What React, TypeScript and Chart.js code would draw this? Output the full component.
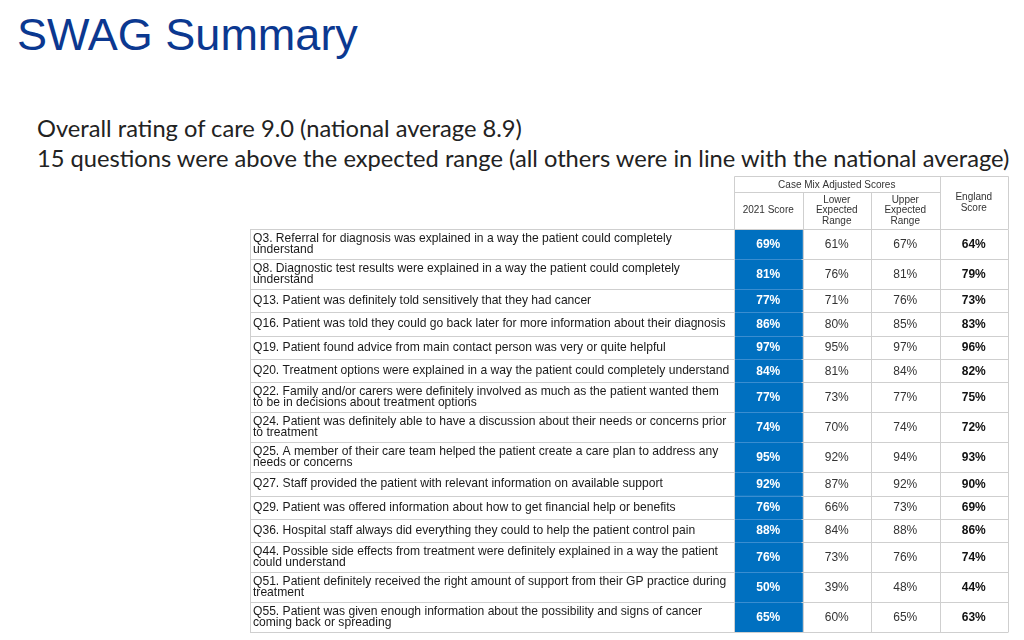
import React, { useEffect, useRef } from "react";
import { Chart, registerables } from "chart.js";

Chart.register(...registerables);

// ---------- data ----------
const pageTitle = "SWAG Summary";
const summaryLines = [
  "Overall rating of care 9.0 (national average 8.9)",
  "15 questions were above the expected range (all others were in line with the national average)",
];

const groupHeader = "Case Mix Adjusted Scores";
const columnLabels = ["2021 Score", "Lower Expected Range", "Upper Expected Range", "England Score"];
const columnHeaderLines = [
  ["2021 Score"],
  ["Lower", "Expected", "Range"],
  ["Upper", "Expected", "Range"],
  ["England", "Score"],
];

const questions: string[][] = [
  ["Q3. Referral for diagnosis was explained in a way the patient could completely", "understand"],
  ["Q8. Diagnostic test results were explained in a way the patient could completely", "understand"],
  ["Q13. Patient was definitely told sensitively that they had cancer"],
  ["Q16. Patient was told they could go back later for more information about their diagnosis"],
  ["Q19. Patient found advice from main contact person was very or quite helpful"],
  ["Q20. Treatment options were explained in a way the patient could completely understand"],
  ["Q22. Family and/or carers were definitely involved as much as the patient wanted them", "to be in decisions about treatment options"],
  ["Q24. Patient was definitely able to have a discussion about their needs or concerns prior", "to treatment"],
  ["Q25. A member of their care team helped the patient create a care plan to address any", "needs or concerns"],
  ["Q27. Staff provided the patient with relevant information on available support"],
  ["Q29. Patient was offered information about how to get financial help or benefits"],
  ["Q36. Hospital staff always did everything they could to help the patient control pain"],
  ["Q44. Possible side effects from treatment were definitely explained in a way the patient", "could understand"],
  ["Q51. Patient definitely received the right amount of support from their GP practice during", "treatment"],
  ["Q55. Patient was given enough information about the possibility and signs of cancer", "coming back or spreading"],
];

const score2021 = [69, 81, 77, 86, 97, 84, 77, 74, 95, 92, 76, 88, 76, 50, 65];
const lowerRange = [61, 76, 71, 80, 95, 81, 73, 70, 92, 87, 66, 84, 73, 39, 60];
const upperRange = [67, 81, 76, 85, 97, 84, 77, 74, 94, 92, 73, 88, 76, 48, 65];
const englandScore = [64, 79, 73, 83, 96, 82, 75, 72, 93, 90, 69, 86, 74, 44, 63];

// ---------- layout / style ----------
const QUESTION_COL = 484;
const HEADER_H = 53;
const BLUE = "#0070c0";
const GRID = "#cfcfcf";
const FONT = "'Liberation Sans', Arial, sans-serif";

const rowSize = (q: string[]) => (q.length > 1 ? 30 : 23.5);

export default function App() {
  const canvasRef = useRef<HTMLCanvasElement | null>(null);

  useEffect(() => {
    if (!canvasRef.current) return;
    const series = [score2021, lowerRange, upperRange, englandScore];

    const rowStarts: number[] = [];
    let acc = 0;
    questions.forEach((q) => {
      rowStarts.push(acc);
      acc += rowSize(q);
    });
    const total = acc;

    const tablePlugin = {
      id: "tablePlugin",
      afterDatasetsDraw(chart: any) {
        const { ctx, chartArea, scales } = chart;
        const xs = scales.x;
        const ys = scales.y;
        const half = (xs.getPixelForValue(1) - xs.getPixelForValue(0)) / 2;
        const colL = (c: number) => xs.getPixelForValue(c) - half;
        const colR = (c: number) => xs.getPixelForValue(c) + half;
        const crisp = (v: number) => Math.round(v) + 0.5;
        const tableLeft = chartArea.left - QUESTION_COL;
        const right = chartArea.right;
        const headTop = chartArea.top - HEADER_H;
        const subTop = headTop + 16;

        ctx.save();
        ctx.lineWidth = 1;

        // horizontal row lines
        const bounds = rowStarts.map((s) => s).concat([total]);
        bounds.forEach((b) => {
          const y = crisp(ys.getPixelForValue(b));
          ctx.strokeStyle = GRID;
          ctx.beginPath();
          ctx.moveTo(tableLeft, y);
          ctx.lineTo(right, y);
          ctx.stroke();
          if (b !== 0 && b !== total) {
            ctx.strokeStyle = "#3a8dd0";
            ctx.beginPath();
            ctx.moveTo(colL(0) + 1, y);
            ctx.lineTo(colR(0) - 1, y);
            ctx.stroke();
          }
        });

        // vertical lines in body
        const vx = [tableLeft, colL(0), colR(0), colR(1), colR(2), colR(3)];
        ctx.strokeStyle = GRID;
        vx.forEach((x) => {
          ctx.beginPath();
          ctx.moveTo(crisp(x), crisp(chartArea.top));
          ctx.lineTo(crisp(x), crisp(chartArea.bottom));
          ctx.stroke();
        });

        // header lines
        ctx.strokeStyle = GRID;
        const hl = (x1: number, y1: number, x2: number, y2: number) => {
          ctx.beginPath();
          ctx.moveTo(x1, y1);
          ctx.lineTo(x2, y2);
          ctx.stroke();
        };
        hl(crisp(colL(0)), crisp(headTop), crisp(right), crisp(headTop));
        hl(crisp(colL(0)), crisp(subTop), crisp(colR(2)), crisp(subTop));
        hl(crisp(colL(0)), crisp(headTop), crisp(colL(0)), crisp(chartArea.top));
        [colR(0), colR(1)].forEach((x) => hl(crisp(x), crisp(subTop), crisp(x), crisp(chartArea.top)));
        [colR(2), colR(3)].forEach((x) => hl(crisp(x), crisp(headTop), crisp(x), crisp(chartArea.top)));

        // header text
        ctx.fillStyle = "#333333";
        ctx.font = `10px ${FONT}`;
        ctx.textAlign = "center";
        ctx.textBaseline = "middle";
        ctx.fillText(groupHeader, (colL(0) + colR(2)) / 2, headTop + 9);
        columnHeaderLines.forEach((lines, c) => {
          const cx = xs.getPixelForValue(c);
          const cy = c === 3 ? (headTop + chartArea.top) / 2 : (subTop + chartArea.top) / 2;
          const lh = 10.7;
          lines.forEach((t, k) => {
            ctx.fillText(t, cx, cy + (k - (lines.length - 1) / 2) * lh);
          });
        });

        // question text
        ctx.textAlign = "left";
        ctx.fillStyle = "#1a1a1a";
        ctx.font = `12.1px ${FONT}`;
        questions.forEach((lines, i) => {
          const cy = ys.getPixelForValue(rowStarts[i] + rowSize(lines) / 2);
          lines.forEach((t, k) => {
            ctx.fillText(t, tableLeft + 3, cy + (k - (lines.length - 1) / 2) * 11);
          });
        });

        // values
        ctx.textAlign = "center";
        series.forEach((vals, c) => {
          const cx = xs.getPixelForValue(c);
          if (c === 0) {
            ctx.fillStyle = "#ffffff";
            ctx.font = `bold 12px ${FONT}`;
          } else if (c === 3) {
            ctx.fillStyle = "#111111";
            ctx.font = `bold 12px ${FONT}`;
          } else {
            ctx.fillStyle = "#333333";
            ctx.font = `12px ${FONT}`;
          }
          vals.forEach((v, i) => {
            const cy = ys.getPixelForValue(rowStarts[i] + rowSize(questions[i]) / 2);
            ctx.fillText(`${v}%`, cx, cy + 0.5);
          });
        });
        ctx.restore();
      },
    };

    const chart = new Chart(canvasRef.current, {
      type: "bar",
      data: {
        labels: columnLabels,
        datasets: series.map((vals, c) => ({
          label: columnLabels[c],
          data: vals.map((v, i) => ({
            x: columnLabels[c],
            y: [rowStarts[i], rowStarts[i] + rowSize(questions[i])],
          })),
          backgroundColor: c === 0 ? BLUE : "#ffffff",
          borderWidth: 0,
          grouped: false,
          barPercentage: 1,
          categoryPercentage: 1,
        })),
      } as any,
      options: {
        animation: false,
        responsive: false,
        devicePixelRatio: 1,
        layout: { padding: { left: QUESTION_COL + 1, top: HEADER_H + 1, right: 3, bottom: 3 } },
        plugins: {
          legend: { display: false },
          tooltip: { enabled: false },
          title: { display: false },
        },
        scales: {
          x: { type: "category", display: false, offset: true, grid: { display: false } },
          y: { type: "linear", min: 0, max: total, reverse: true, display: false },
        },
      } as any,
      plugins: [tablePlugin],
    });
    return () => chart.destroy();
  }, []);

  return (
    <div
      style={{
        position: "absolute",
        left: 0,
        top: 0,
        width: 1024,
        height: 640,
        background: "#ffffff",
        overflow: "hidden",
      }}
    >
      <div
        style={{
          position: "absolute",
          left: 17,
          top: 12,
          fontFamily: "'Liberation Sans', Arial, sans-serif",
          fontSize: 45,
          lineHeight: "45px",
          color: "#0b3890",
          whiteSpace: "nowrap",
        }}
      >
        {pageTitle}
      </div>
      <div
        style={{
          position: "absolute",
          left: 37,
          top: 112.5,
          fontFamily: "Lato, 'Open Sans', sans-serif",
          fontSize: 23.7,
          lineHeight: "30px",
          color: "#222222",
          whiteSpace: "nowrap",
        }}
      >
        {summaryLines.map((t) => (
          <div key={t}>{t}</div>
        ))}
      </div>
      <div style={{ position: "absolute", left: 249, top: 175, width: 762, height: 460 }}>
        <canvas ref={canvasRef} width={762} height={460} />
      </div>
    </div>
  );
}
